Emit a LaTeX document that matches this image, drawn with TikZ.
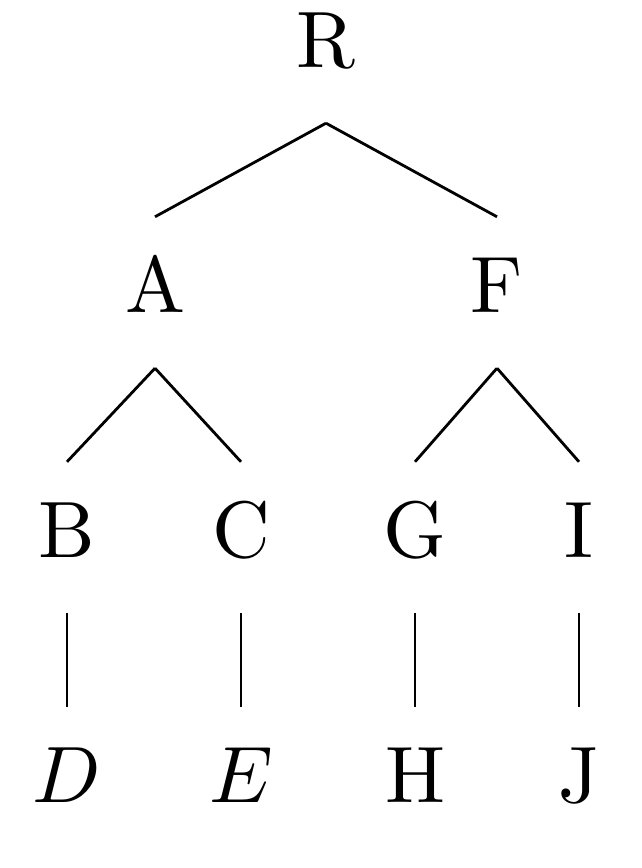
\documentclass[tikz,border=0pt]{standalone}
\usepackage{graphicx}
\usepackage{fontspec}
\setmainfont{lmroman10-regular.otf}
\newcommand{\bigmath}[1]{\scalebox{8}{\fontsize{10}{12}\selectfont$#1$}}
\begin{document}
\begin{tikzpicture}[x=1pt,y=1pt,
  tn/.style={anchor=base,inner sep=0pt,text height=96pt,text depth=55pt,font=\fontsize{80}{90}\selectfont},
  edge/.style={line width=2.8pt}]
\useasboundingbox (0,0) rectangle (641,868);
\node[tn] (R) at (326,800) {R};
\node[tn] (A) at (155,555) {A};
\node[tn] (F) at (497,555) {F};
\node[tn] (B) at (67,310) {B};
\node[tn] (C) at (241,310) {C};
\node[tn] (G) at (415,310) {G};
\node[tn] (I) at (579,310) {I};
\node[tn] (D) at (67,65) {\bigmath{D}};
\node[tn] (E) at (241,65) {\bigmath{E}};
\node[tn] (H) at (415,65) {H};
\node[tn] (J) at (579,65) {J};
\draw[edge] (R.south) -- (A.north);
\draw[edge] (R.south) -- (F.north);
\draw[edge] (A.south) -- (B.north);
\draw[edge] (A.south) -- (C.north);
\draw[edge] (F.south) -- (G.north);
\draw[edge] (F.south) -- (I.north);
\draw[edge] (B.south) -- (D.north);
\draw[edge] (C.south) -- (E.north);
\draw[edge] (G.south) -- (H.north);
\draw[edge] (I.south) -- (J.north);
\end{tikzpicture}
\end{document}
